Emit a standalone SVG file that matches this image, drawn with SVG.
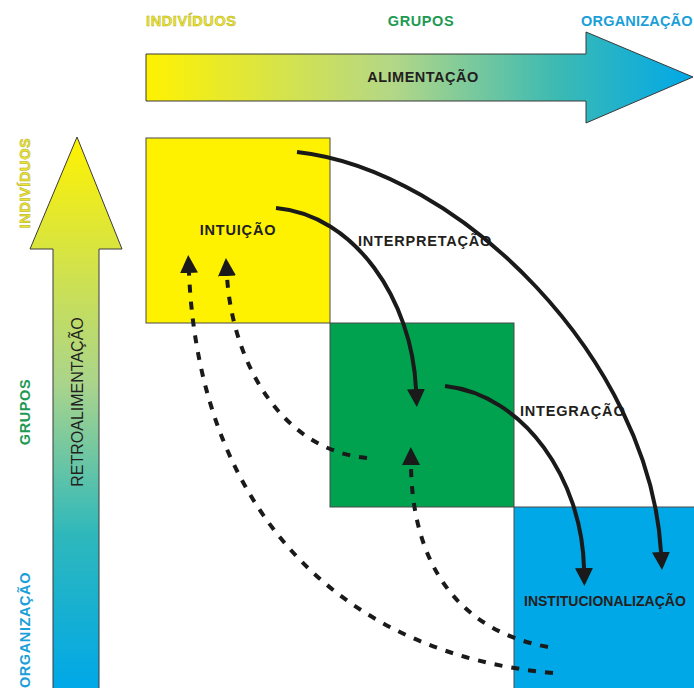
<svg xmlns="http://www.w3.org/2000/svg" width="694" height="688" viewBox="0 0 694 688">
<defs>
<linearGradient id="gH" gradientUnits="userSpaceOnUse" x1="146" y1="0" x2="694" y2="0">
<stop offset="0" stop-color="#fff200"/>
<stop offset="0.45" stop-color="#b3d787"/>
<stop offset="0.75" stop-color="#3cbab3"/>
<stop offset="1" stop-color="#00a8e8"/>
</linearGradient>
<linearGradient id="gV" gradientUnits="userSpaceOnUse" x1="0" y1="137" x2="0" y2="688">
<stop offset="0" stop-color="#fff200"/>
<stop offset="0.45" stop-color="#a9d48c"/>
<stop offset="0.72" stop-color="#2fb8bb"/>
<stop offset="1" stop-color="#00a8e8"/>
</linearGradient>
<marker id="ah" viewBox="0 0 18 18" refX="0" refY="9" markerWidth="18" markerHeight="18" markerUnits="userSpaceOnUse" orient="auto">
<path d="M0,0 L18,9 L0,18 z" fill="#1a1a1a" stroke="none"/>
</marker>
<style>
.lbl{font-family:"Liberation Sans",Arial,sans-serif;font-weight:bold;font-size:14.5px;letter-spacing:0.8px;fill:#231f20}
.axis{font-family:"Liberation Sans",Arial,sans-serif;font-weight:bold;font-size:14.5px;letter-spacing:0.6px}
.ind{fill:#ece636;stroke:#b5ad1a;stroke-width:0.5}
.grp{fill:#1d9a52}
.org{fill:#1b9fd8}
.box{stroke:#4a4a4a;stroke-width:1}
.solid{fill:none;stroke:#1a1a1a;stroke-width:4;marker-end:url(#ah)}
.dash{fill:none;stroke:#1a1a1a;stroke-width:4;stroke-dasharray:8 9;marker-end:url(#ah)}
</style>
</defs>
<rect width="694" height="688" fill="#ffffff"/>

<g id="axis-top">
<path d="M146,54 L586,54 L586,32 L693,77 L586,123 L586,101 L146,101 z" fill="url(#gH)" stroke="#3a3a3a" stroke-width="1"/>
<text class="lbl" x="423" y="82" text-anchor="middle" style="letter-spacing:0.5px">ALIMENTAÇÃO</text>
<text class="axis ind" x="146" y="26">INDIVÍDUOS</text>
<text class="axis grp" x="421" y="26" text-anchor="middle">GRUPOS</text>
<text class="axis org" x="581" y="26" style="letter-spacing:0.2px">ORGANIZAÇÃO</text>
</g>

<g id="axis-left">
<path d="M53,690 L53,249 L30,249 L77,137 L122,249 L99,249 L99,690 z" fill="url(#gV)" stroke="#3a3a3a" stroke-width="1"/>
<text transform="translate(83,402) rotate(-90)" text-anchor="middle" font-family="'Liberation Sans',Arial,sans-serif" font-size="16" fill="#231f20">RETROALIMENTAÇÃO</text>
<text class="axis ind" transform="translate(30,183) rotate(-90)" text-anchor="middle">INDIVÍDUOS</text>
<text class="axis grp" transform="translate(30,412) rotate(-90)" text-anchor="middle">GRUPOS</text>
<text class="axis org" transform="translate(30,630) rotate(-90)" text-anchor="middle">ORGANIZAÇÃO</text>
</g>

<g id="intuicao">
<rect class="box" x="146" y="138" width="184" height="185" fill="#fff200"/>
<text class="lbl" x="238" y="235" text-anchor="middle">INTUIÇÃO</text>
</g>
<g id="integracao">
<rect class="box" x="330" y="323" width="184" height="184" fill="#00a14f"/>
</g>
<g id="institucionalizacao">
<rect class="box" x="514" y="507" width="190" height="190" fill="#00a8e8"/>
<text class="lbl" x="524" y="606" style="font-size:14px;letter-spacing:0">INSTITUCIONALIZAÇÃO</text>
</g>
<g id="labels">
<text class="lbl" x="358" y="246">INTERPRETAÇÃO</text>
<text class="lbl" x="520" y="416">INTEGRAÇÃO</text>
</g>

<g id="connectors">
<path class="solid" d="M297,152 C460,170 650,360 661,552"/>
<path class="solid" d="M276,208 C355,215 412,300 416,389"/>
<path class="solid" d="M445,386 C525,395 582,480 584,568"/>
<path class="dash" d="M553,673 C350,655 200,520 189,273"/>
<path class="dash" d="M367,458 C280,450 232,360 227,276"/>
<path class="dash" d="M548,647 C455,630 412,560 411,465"/>
</g>
</svg>
